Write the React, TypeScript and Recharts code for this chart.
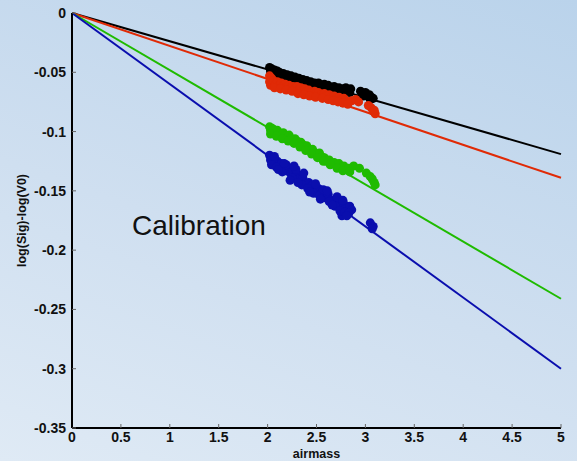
import React from "react";
import {
  ReferenceLine,
  Scatter,
  ScatterChart,
  XAxis,
  YAxis,
  ZAxis,
} from "recharts";

// fitted extinction lines: value of log(Sig)-log(V0) at airmass 5
const FIT_END_X = 5;
const fitEnds = [-0.119, -0.139, -0.241, -0.3];
const colors = ["#000000", "#e02a06", "#1fbb00", "#0a0eae"];

const xTicks = [0, 0.5, 1, 1.5, 2, 2.5, 3, 3.5, 4, 4.5, 5];
const yTicks = [-0.35, -0.3, -0.25, -0.2, -0.15, -0.1, -0.05, 0];

// measured points per band: [airmass, log(Sig)-log(V0)]
const blackPts: [number, number][] = [
  [2.02, -0.046], [2.03, -0.049], [2.04, -0.047], [2.05, -0.05], [2.07, -0.048], [2.08, -0.051],
  [2.1, -0.049], [2.12, -0.05], [2.14, -0.052], [2.16, -0.051], [2.18, -0.053], [2.2, -0.052],
  [2.22, -0.054], [2.24, -0.053], [2.26, -0.055], [2.28, -0.054], [2.3, -0.056], [2.32, -0.055],
  [2.34, -0.057], [2.36, -0.056], [2.38, -0.058], [2.4, -0.057], [2.42, -0.059], [2.44, -0.058],
  [2.46, -0.06], [2.48, -0.059], [2.5, -0.06], [2.52, -0.059], [2.55, -0.061], [2.58, -0.06],
  [2.6, -0.062], [2.62, -0.061], [2.65, -0.063], [2.68, -0.062], [2.7, -0.064], [2.73, -0.063],
  [2.75, -0.065], [2.78, -0.064], [2.8, -0.063], [2.82, -0.065], [2.85, -0.064], [2.95, -0.066],
  [2.97, -0.068], [3.0, -0.067], [3.02, -0.07], [3.04, -0.069], [3.06, -0.071], [3.08, -0.072],
  [2.03, -0.052], [2.09, -0.053], [2.15, -0.055], [2.21, -0.057], [2.27, -0.058], [2.33, -0.059],
  [2.39, -0.061], [2.45, -0.062], [2.51, -0.063], [2.57, -0.064], [2.63, -0.065], [2.69, -0.066],
  [2.74, -0.067], [2.79, -0.067], [2.84, -0.067], [2.98, -0.07], [3.05, -0.073],
];

const redPts: [number, number][] = [
  [2.02, -0.053], [2.02, -0.058], [2.03, -0.061], [2.04, -0.055], [2.05, -0.059], [2.06, -0.057],
  [2.08, -0.06], [2.1, -0.058], [2.12, -0.061], [2.14, -0.059], [2.16, -0.061], [2.18, -0.06],
  [2.2, -0.062], [2.22, -0.061], [2.24, -0.063], [2.26, -0.062], [2.28, -0.064], [2.3, -0.062],
  [2.32, -0.065], [2.34, -0.063], [2.36, -0.066], [2.38, -0.064], [2.4, -0.066], [2.42, -0.065],
  [2.45, -0.067], [2.48, -0.066], [2.5, -0.068], [2.52, -0.067], [2.55, -0.069], [2.58, -0.068],
  [2.6, -0.07], [2.63, -0.069], [2.65, -0.071], [2.68, -0.07], [2.7, -0.072], [2.73, -0.071],
  [2.75, -0.073], [2.78, -0.072], [2.8, -0.074], [2.83, -0.075], [2.86, -0.074], [2.9, -0.073],
  [2.93, -0.075], [3.03, -0.078], [3.06, -0.08], [3.08, -0.083], [3.1, -0.085], [3.09, -0.082],
  [2.07, -0.063], [2.13, -0.064], [2.19, -0.065], [2.25, -0.066], [2.31, -0.068], [2.37, -0.069],
  [2.43, -0.07], [2.49, -0.071], [2.56, -0.072], [2.62, -0.073], [2.67, -0.074], [2.72, -0.075],
  [2.77, -0.076], [2.82, -0.077],
];

const greenPts: [number, number][] = [
  [2.02, -0.096], [2.03, -0.099], [2.04, -0.097], [2.05, -0.1], [2.06, -0.098], [2.08, -0.101],
  [2.1, -0.099], [2.12, -0.102], [2.14, -0.103], [2.16, -0.101], [2.18, -0.104], [2.2, -0.105],
  [2.22, -0.103], [2.24, -0.106], [2.26, -0.107], [2.28, -0.106], [2.3, -0.108], [2.32, -0.11],
  [2.34, -0.109], [2.36, -0.111], [2.38, -0.113], [2.4, -0.112], [2.42, -0.115], [2.44, -0.116],
  [2.46, -0.115], [2.48, -0.118], [2.5, -0.119], [2.53, -0.118], [2.55, -0.121], [2.58, -0.122],
  [2.6, -0.125], [2.63, -0.124], [2.65, -0.127], [2.68, -0.126], [2.7, -0.128], [2.73, -0.127],
  [2.75, -0.13], [2.78, -0.129], [2.8, -0.132], [2.83, -0.131], [2.88, -0.129], [2.94, -0.131],
  [3.01, -0.135], [3.05, -0.138], [3.07, -0.14], [3.09, -0.143], [3.1, -0.145],
  [2.03, -0.102], [2.09, -0.104], [2.15, -0.106], [2.21, -0.108], [2.27, -0.11], [2.33, -0.113],
  [2.39, -0.116], [2.45, -0.119], [2.51, -0.122], [2.57, -0.125], [2.64, -0.128], [2.71, -0.131],
  [2.77, -0.133], [2.84, -0.134],
];

const bluePts: [number, number][] = [
  [2.02, -0.12], [2.03, -0.124], [2.04, -0.122], [2.05, -0.126], [2.06, -0.123], [2.08, -0.127],
  [2.1, -0.125], [2.12, -0.129], [2.14, -0.127], [2.16, -0.131], [2.18, -0.133], [2.2, -0.13],
  [2.22, -0.134], [2.24, -0.136], [2.26, -0.133], [2.28, -0.138], [2.3, -0.136], [2.32, -0.14],
  [2.34, -0.142], [2.36, -0.139], [2.38, -0.143], [2.4, -0.145], [2.42, -0.143], [2.44, -0.147],
  [2.46, -0.145], [2.48, -0.149], [2.5, -0.151], [2.52, -0.148], [2.55, -0.152], [2.58, -0.154],
  [2.6, -0.156], [2.62, -0.153], [2.65, -0.158], [2.68, -0.16], [2.7, -0.157], [2.72, -0.162],
  [2.75, -0.164], [2.76, -0.171], [2.78, -0.161], [2.8, -0.165], [2.82, -0.167], [2.84, -0.163],
  [2.86, -0.166], [3.05, -0.177], [3.08, -0.18], [3.07, -0.182],
  [2.04, -0.128], [2.09, -0.13], [2.15, -0.134], [2.19, -0.128], [2.25, -0.139], [2.29, -0.132],
  [2.35, -0.145], [2.41, -0.148], [2.47, -0.152], [2.53, -0.154], [2.57, -0.149], [2.63, -0.159],
  [2.69, -0.163], [2.74, -0.167], [2.79, -0.168], [2.83, -0.169],
  [2.07, -0.121], [2.11, -0.132], [2.17, -0.127], [2.23, -0.141], [2.27, -0.129], [2.31, -0.143],
  [2.37, -0.135], [2.43, -0.151], [2.49, -0.144], [2.54, -0.157], [2.61, -0.15], [2.66, -0.162],
  [2.71, -0.155], [2.77, -0.158], [2.81, -0.171],
];

const series = [blackPts, redPts, greenPts, bluePts];

const FONT = "Liberation Sans, Arial, sans-serif";
const tickStyle = { fill: "#111", fontSize: 14, fontWeight: 700, fontFamily: FONT };
const axisLine = { stroke: "#000", strokeWidth: 2 };
const tickLine = { stroke: "#666", strokeWidth: 1 };

export default function App() {
  const toRows = (pts: [number, number][]) => pts.map(([x, y]) => ({ x, y }));

  return (
    <div
      style={{
        position: "absolute",
        left: 0,
        top: 0,
        width: 577,
        height: 461,
        background: "linear-gradient(200deg, #bad3eb 0%, #cfdff0 55%, #dfeaf5 100%)",
        fontFamily: FONT,
      }}
    >
      <ScatterChart width={577} height={461} margin={{ top: 13, right: 16, bottom: 0, left: 0 }}>
        <XAxis
          type="number"
          dataKey="x"
          domain={[0, 5]}
          ticks={xTicks}
          interval={0}
          height={33}
          tickSize={-4}
          tickMargin={8}
          tick={tickStyle}
          tickLine={tickLine}
          axisLine={axisLine}
          label={{
            value: "airmass",
            position: "insideBottom",
            offset: 3,
            style: { fill: "#111", fontSize: 12.5, fontWeight: 700, fontFamily: FONT },
          }}
        />
        <XAxis
          xAxisId="top"
          orientation="top"
          type="number"
          domain={[0, 5]}
          ticks={xTicks}
          interval={0}
          height={0}
          tickSize={-4}
          tick={false}
          tickLine={tickLine}
          axisLine={axisLine}
        />
        <YAxis
          type="number"
          dataKey="y"
          domain={[-0.35, 0]}
          ticks={yTicks}
          interval={0}
          width={72}
          tickSize={-4}
          tickMargin={10}
          tick={tickStyle}
          tickLine={tickLine}
          axisLine={axisLine}
          label={{
            value: "log(Sig)-log(V0)",
            angle: -90,
            position: "insideLeft",
            offset: 22,
            style: { fill: "#111", fontSize: 12.5, fontWeight: 700, fontFamily: FONT, textAnchor: "middle" },
          }}
        />
        <YAxis
          yAxisId="right"
          orientation="right"
          type="number"
          domain={[-0.35, 0]}
          ticks={yTicks}
          interval={0}
          width={0}
          tickSize={-4}
          tick={false}
          tickLine={tickLine}
          axisLine={axisLine}
        />
        <ZAxis range={[28, 28]} />
        {fitEnds.map((v, i) => (
          <ReferenceLine
            key={`fit-${i}`}
            segment={[
              { x: 0, y: 0 },
              { x: FIT_END_X, y: v },
            ]}
            stroke={colors[i]}
            strokeWidth={2}
            ifOverflow="visible"
          />
        ))}
        {series.map((pts, i) => (
          <Scatter
            key={`pts-${i}`}
            data={toRows(pts)}
            fill={colors[i]}
            isAnimationActive={false}
          />
        ))}
      </ScatterChart>
      <div
        style={{
          position: "absolute",
          left: 132,
          top: 209,
          fontSize: 28,
          color: "#111",
          fontFamily: FONT,
          lineHeight: "34px",
        }}
      >
        Calibration
      </div>
    </div>
  );
}
